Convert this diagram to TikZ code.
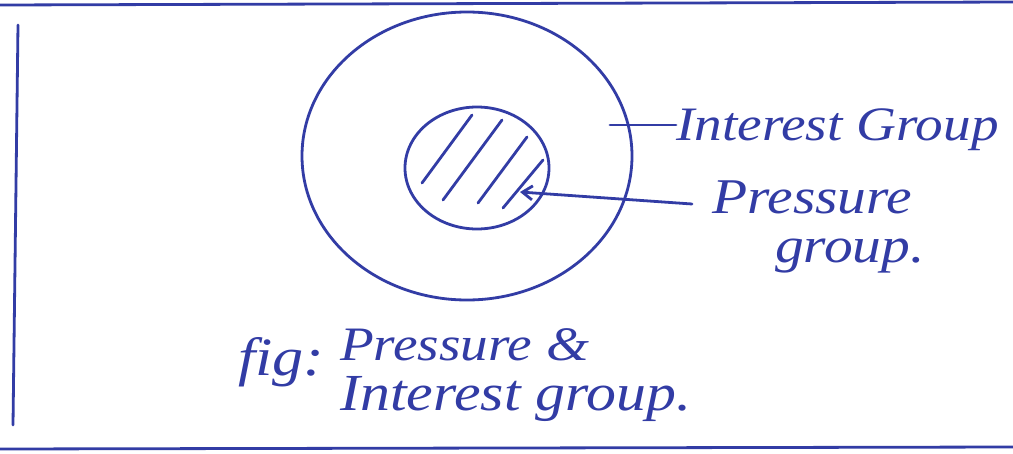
\documentclass[tikz,border=0pt]{standalone}
\usepackage{fontspec}
\setmainfont[FakeStretch=1.15]{Liberation Serif}
\usetikzlibrary{shapes.geometric,arrows.meta}
\definecolor{penblue}{RGB}{50,60,165}
\tikzset{
  pen/.style={draw=penblue, line width=2.8pt, line cap=round, line join=round},
  hand/.style={text=penblue, font=\fontsize{48}{56}\selectfont\itshape, inner sep=0pt, anchor=base west},
  hatchline/.style={pen, line width=2.8pt}
}
\begin{document}
\begin{tikzpicture}[x=1pt,y=-1pt]
\useasboundingbox (0,0) rectangle (1013,453);
\fill[white] (0,0) rectangle (1013,453);
% frame
\coordinate (tl) at (0,5);
\coordinate (tr) at (1013,2);
\coordinate (ltop) at (18,25);
\coordinate (lbot) at (13,425);
\coordinate (bl) at (0,449);
\coordinate (br) at (1013,447);
\draw[pen] (tl) -- (tr);
\draw[pen] (ltop) -- (lbot);
\draw[pen] (bl) -- (br);
% circles
\node[ellipse, pen, minimum width=330pt, minimum height=288pt, inner sep=0pt] (outer) at (467,156) {};
\node[ellipse, pen, minimum width=144pt, minimum height=122pt, inner sep=0pt] (inner) at (477,168) {};
% hatching
\coordinate (h1a) at (472,115); \coordinate (h1b) at (422,183);
\coordinate (h2a) at (502,120); \coordinate (h2b) at (443,200);
\coordinate (h3a) at (527,137); \coordinate (h3b) at (478,203);
\coordinate (h4a) at (543,160); \coordinate (h4b) at (503,208);
\draw[hatchline] (h1a) -- (h1b);
\draw[hatchline] (h2a) -- (h2b);
\draw[hatchline] (h3a) -- (h3b);
\draw[hatchline] (h4a) -- (h4b);
% labels
\node[hand] (ig) at (676,140) {Interest Group};
\coordinate (igtick) at (610,125);
\draw[pen] (igtick) -- (ig.west |- igtick);
\node[hand, font=\fontsize{50}{58}\selectfont\itshape] (pg1) at (712,213) {Pressure};
\node[hand, font=\fontsize{50}{58}\selectfont\itshape] (pg2) at (775,262) {group.};
\coordinate (ptip) at (520,192);
\coordinate (pstart) at (692,204);
\draw[pen, -{Straight Barb[length=10pt,width=14pt]}] (pstart) -- (ptip);
% caption
\node[hand, font=\fontsize{54}{62}\selectfont\itshape] (fig) at (238,375) {fig:};
\node[hand] (cap1) at (340,360) {Pressure \&};
\node[hand, font=\fontsize{52}{60}\selectfont\itshape] (cap2) at (340,410) {Interest group.};
\end{tikzpicture}
\end{document}
